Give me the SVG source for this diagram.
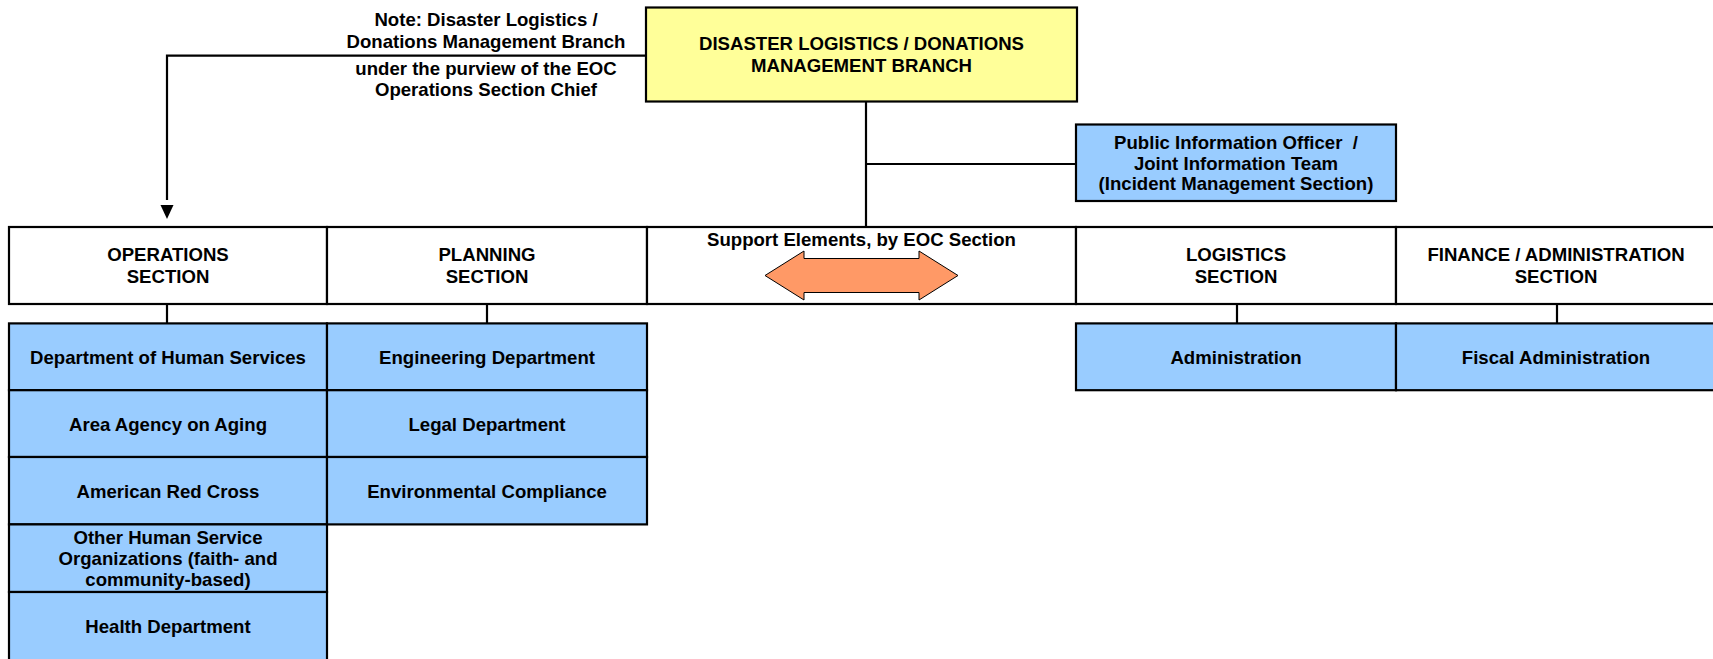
<svg xmlns="http://www.w3.org/2000/svg" width="1713" height="659" viewBox="0 0 1713 659">
<style>
text{font-family:"Liberation Sans",Arial,sans-serif;font-weight:bold;font-size:18.6px;fill:#000;text-anchor:middle;dominant-baseline:central;white-space:pre}
.box{stroke:#000;stroke-width:2.2}
.yel{fill:#FFFF99}
.blue{fill:#99CCFF}
.white{fill:#FFFFFF}
.line{stroke:#000;stroke-width:2.2;fill:none}
</style>
<rect width="1713" height="659" fill="#fff"/>
<g id="connectors">
<polyline class="line" points="646,55.7 167,55.7 167,200"/>
<polygon points="160.5,205 173.5,205 167,219" fill="#000"/>
<line class="line" x1="866" y1="101" x2="866" y2="227"/>
<line class="line" x1="866" y1="164" x2="1076" y2="164"/>
<line class="line" x1="167" y1="304" x2="167" y2="323"/>
<line class="line" x1="487" y1="304" x2="487" y2="323"/>
<line class="line" x1="1237" y1="304" x2="1237" y2="323"/>
<line class="line" x1="1557" y1="304" x2="1557" y2="323"/>
</g>
<g id="note">
<text x="486" y="19.7">Note: Disaster Logistics /</text>
<text x="486" y="41.5">Donations Management Branch</text>
<text x="486" y="68.8">under the purview of the EOC</text>
<text x="486" y="89.6">Operations Section Chief</text>
</g>
<g id="branch">
<rect class="box yel" x="646" y="7.5" width="431" height="94"/>
<text x="861.5" y="43.7">DISASTER LOGISTICS / DONATIONS</text>
<text x="861.5" y="65.5">MANAGEMENT BRANCH</text>
</g>
<g id="pio">
<rect class="box blue" x="1076" y="124.5" width="320" height="76.5"/>
<text x="1236" y="142" xml:space="preserve">Public Information Officer  /</text>
<text x="1236" y="163">Joint Information Team</text>
<text x="1236" y="183.5">(Incident Management Section)</text>
</g>
<g id="operations">
<rect class="box white" x="9" y="227" width="318" height="77"/>
<text x="168" y="254.5">OPERATIONS</text>
<text x="168" y="276.4">SECTION</text>
</g>
<g id="planning">
<rect class="box white" x="327" y="227" width="320" height="77"/>
<text x="487" y="254.5">PLANNING</text>
<text x="487" y="276.4">SECTION</text>
</g>
<g id="support">
<rect class="box white" x="647" y="227" width="429" height="77"/>
<text x="861.5" y="239">Support Elements, by EOC Section</text>
<polygon points="765,275.5 804,251 804,258.5 919,258.5 919,251 958,275.5 919,300 919,292.5 804,292.5 804,300" fill="#FF9966" stroke="#000" stroke-width="1"/>
</g>
<g id="logistics">
<rect class="box white" x="1076" y="227" width="320" height="77"/>
<text x="1236" y="254.5">LOGISTICS</text>
<text x="1236" y="276.4">SECTION</text>
</g>
<g id="finance">
<rect class="box white" x="1396" y="227" width="320" height="77"/>
<text x="1556" y="254.5">FINANCE / ADMINISTRATION</text>
<text x="1556" y="276.4">SECTION</text>
</g>
<g id="dhs">
<rect class="box blue" x="9" y="323.4" width="318" height="66.8"/>
<text x="168" y="357">Department of Human Services</text>
</g>
<g id="aaa">
<rect class="box blue" x="9" y="390.2" width="318" height="66.8"/>
<text x="168" y="424">Area Agency on Aging</text>
</g>
<g id="arc">
<rect class="box blue" x="9" y="457" width="318" height="67.4"/>
<text x="168" y="491">American Red Cross</text>
</g>
<g id="other">
<rect class="box blue" x="9" y="524.4" width="318" height="67.6"/>
<text x="168" y="537.5">Other Human Service</text>
<text x="168" y="558">Organizations (faith- and</text>
<text x="168" y="579">community-based)</text>
</g>
<g id="health">
<rect class="box blue" x="9" y="592" width="318" height="70"/>
<text x="168" y="626">Health Department</text>
</g>
<g id="engineering">
<rect class="box blue" x="327" y="323.4" width="320" height="66.8"/>
<text x="487" y="357">Engineering Department</text>
</g>
<g id="legal">
<rect class="box blue" x="327" y="390.2" width="320" height="66.8"/>
<text x="487" y="424">Legal Department</text>
</g>
<g id="environmental">
<rect class="box blue" x="327" y="457" width="320" height="67.4"/>
<text x="487" y="491">Environmental Compliance</text>
</g>
<g id="administration">
<rect class="box blue" x="1076" y="323.4" width="320" height="66.8"/>
<text x="1236" y="357">Administration</text>
</g>
<g id="fiscal">
<rect class="box blue" x="1396" y="323.4" width="320" height="66.8"/>
<text x="1556" y="357">Fiscal Administration</text>
</g>
</svg>
